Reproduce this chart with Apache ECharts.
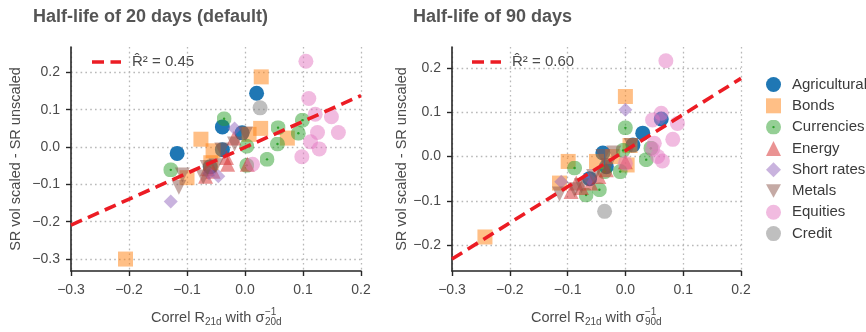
<!DOCTYPE html>
<html>
<head>
<meta charset="utf-8">
<script src="https://cdn.jsdelivr.net/npm/echarts@6/dist/echarts.min.js"></script>
<style>
  html, body { margin: 0; padding: 0; background: #fff; }
  #chart { width: 866px; height: 332px; }
</style>
</head>
<body>
<div id="chart"></div>
<script>
// Asset classes shown in the legend
const categories = ['Agricultural', 'Bonds', 'Currencies', 'Energy', 'Short rates', 'Metals', 'Equities', 'Credit'];

// Half-life of 20 days: [correlation, SR vol scaled - SR unscaled]
const agri20 = [[-0.117, -0.017], [-0.039, 0.054], [-0.005, 0.038], [-0.039, -0.007], [-0.060, -0.053], [0.020, 0.144]];
const bonds20 = [[-0.206, -0.300], [0.028, 0.188], [-0.076, 0.021], [0.027, 0.050], [0.007, 0.034], [0.073, 0.024], [-0.055, -0.010], [-0.100, -0.082], [-0.059, -0.042]];
const curr20 = [[-0.036, 0.076], [-0.128, -0.061], [0.003, 0.002], [0.003, -0.049], [0.038, -0.033], [0.099, 0.072], [0.057, 0.052], [0.092, 0.037], [0.056, 0.008]];
const energy20 = [[-0.019, 0.024], [-0.032, -0.028], [-0.030, -0.046], [0.004, -0.046], [-0.065, -0.058], [-0.068, -0.078], [-0.055, -0.065]];
const short20 = [[-0.128, -0.146], [-0.046, -0.078], [-0.018, 0.050], [-0.062, -0.070]];
const metals20 = [[-0.114, -0.108], [-0.108, -0.075], [-0.040, -0.008], [-0.018, 0.008], [-0.065, -0.055], [-0.072, -0.080], [0.001, 0.035], [-0.050, -0.050]];
const equities20 = [[0.105, 0.230], [0.110, 0.130], [0.121, 0.088], [0.149, 0.081], [0.125, 0.039], [0.161, 0.039], [0.113, 0.014], [0.128, -0.005], [0.098, -0.026], [0.013, -0.046]];
const credit20 = [[0.026, 0.105]];
const fit20 = [[-0.3, -0.209], [0.2, 0.138]];
const r2_20 = '0.45';

// Half-life of 90 days
const agri90 = [[0.062, 0.085], [0.030, 0.053], [0.013, 0.026], [-0.039, 0.008], [-0.033, -0.023], [-0.062, -0.050]];
const bonds90 = [[-0.243, -0.182], [0.000, 0.136], [-0.099, -0.011], [-0.114, -0.060], [-0.050, -0.011], [-0.022, 0.000], [0.003, -0.019], [0.008, 0.025]];
const curr90 = [[0.000, 0.065], [-0.088, -0.026], [-0.068, -0.087], [-0.045, -0.075], [-0.009, -0.034], [-0.036, -0.034], [0.036, -0.007], [0.044, 0.019], [-0.004, 0.014]];
const energy90 = [[-0.094, -0.079], [-0.076, -0.070], [-0.046, -0.045], [-0.085, -0.060], [0.000, -0.012], [-0.060, -0.060], [-0.033, -0.030]];
const short90 = [[0.000, 0.106], [-0.111, -0.057], [0.062, 0.086], [-0.062, -0.050]];
const metals90 = [[-0.114, -0.085], [-0.088, -0.075], [-0.039, 0.000], [-0.020, 0.008], [0.010, 0.025], [-0.076, -0.066], [-0.055, -0.045], [-0.030, -0.020]];
const equities90 = [[0.070, 0.217], [0.062, 0.098], [0.047, 0.083], [0.090, 0.075], [0.082, 0.039], [0.047, 0.017], [0.056, 0.000], [0.064, -0.010], [0.050, 0.030], [0.000, -0.015]];
const credit90 = [[-0.036, -0.124]];
const fit90 = [[-0.3, -0.232], [0.2, 0.177]];
const r2_90 = '0.60';

// Axis ranges and tick labels
const xTicks = [-0.3, -0.2, -0.1, 0.0, 0.1, 0.2];
const yTicks20 = [-0.3, -0.2, -0.1, 0.0, 0.1, 0.2];
const yTicks90 = [-0.2, -0.1, 0.0, 0.1, 0.2];
const yRange20 = [-0.332, 0.268];
const yRange90 = [-0.259, 0.248];
const titles = ['Half-life of 20 days (default)', 'Half-life of 90 days'];
const yName = 'SR vol scaled - SR unscaled';
const lags = ['20d', '90d'];

const FONT = '"Liberation Sans", Arial, Helvetica, sans-serif';
const TXT = '#4a4a4a';
const AXIS = '#262626';

const panels = [
  { sets: [agri20, bonds20, curr20, energy20, short20, metals20, equities20, credit20], fit: fit20, r2: r2_20, yTicks: yTicks20, yRange: yRange20 },
  { sets: [agri90, bonds90, curr90, energy90, short90, metals90, equities90, credit90], fit: fit90, r2: r2_90, yTicks: yTicks90, yRange: yRange90 }
];

const dotSvg = "<svg xmlns='http://www.w3.org/2000/svg' width='30' height='30' viewBox='0 0 30 30'>" +
  "<circle cx='15' cy='15' r='15' fill='#2ca02c' fill-opacity='0.5'/>" +
  "<circle cx='15' cy='15' r='2.4' fill='#2ca02c'/></svg>";
const dotSymbol = 'image://data:image/svg+xml;charset=utf-8,' + encodeURIComponent(dotSvg);

const styles = [
  { symbol: 'circle', size: 15, color: 'rgb(31,119,180)' },
  { symbol: 'rect', size: 15, color: 'rgba(255,127,14,0.5)' },
  { symbol: dotSymbol, size: 15, color: 'rgba(44,160,44,0.5)' },
  { symbol: 'triangle', size: 15, color: 'rgba(214,39,40,0.5)' },
  { symbol: 'diamond', size: 14, color: 'rgba(148,103,189,0.5)' },
  { symbol: 'path://M0,0 L10,0 L5,9 Z', size: 15, color: 'rgba(140,86,75,0.5)' },
  { symbol: 'circle', size: 15, color: 'rgba(227,119,194,0.5)' },
  { symbol: 'circle', size: 15, color: 'rgba(127,127,127,0.5)' }
];

const gridBoxes = [
  { left: 71, top: 47, width: 290, height: 224 },
  { left: 452, top: 47, width: 289, height: 224 }
];

function fmt(v) {
  const r = Math.round(v * 10) / 10;
  return (r < 0 ? '\u2212' : '') + Math.abs(r).toFixed(1);
}

const splitStyle = { show: true, lineStyle: { color: '#b8b8b8', width: 1.3, type: [1.6, 3.2] } };

const xAxes = gridBoxes.map((g, i) => ({
  type: 'value', gridIndex: i, min: -0.3, max: 0.2, interval: 0.1,
  axisLine: { show: true, onZero: false, lineStyle: { color: AXIS, width: 1.6 } },
  axisTick: { show: true, inside: false, length: 5, lineStyle: { color: AXIS, width: 1.4 } },
  axisLabel: { color: TXT, fontSize: 14, fontFamily: FONT, margin: 12, formatter: fmt },
  splitLine: splitStyle
}));

const yAxes = panels.map((p, i) => ({
  type: 'value', gridIndex: i, min: p.yRange[0], max: p.yRange[1],
  name: yName, nameLocation: 'middle', nameGap: i === 0 ? 48 : 42, nameRotate: 90,
  nameTextStyle: { color: TXT, fontSize: 14.5, fontFamily: FONT },
  axisLine: { show: true, onZero: false, lineStyle: { color: AXIS, width: 1.6 } },
  axisTick: { show: true, inside: false, length: 5, customValues: p.yTicks, lineStyle: { color: AXIS, width: 1.4 } },
  axisLabel: { color: TXT, fontSize: 14, fontFamily: FONT, margin: 11, customValues: p.yTicks, formatter: fmt },
  splitLine: splitStyle
}));

const series = [];
panels.forEach((p, pi) => {
  p.sets.forEach((data, ci) => {
    const st = styles[ci];
    series.push({
      type: 'scatter', name: categories[ci], xAxisIndex: pi, yAxisIndex: pi,
      data: data, symbol: st.symbol, symbolSize: st.size,
      itemStyle: { color: st.color, opacity: 1, borderWidth: 0 },
      emphasis: { disabled: true }, z: 2 + ci * 0.01
    });
  });
  series.push({
    type: 'line', name: 'fit' + pi, xAxisIndex: pi, yAxisIndex: pi,
    data: p.fit, symbol: 'none', silent: true, z: 10,
    lineStyle: { color: '#ec1c24', width: 3.6, type: [12, 6.5] }
  });
});

// Measure text to lay out the sub/superscripted x-axis titles
const ctx = document.createElement('canvas').getContext('2d');
function tw(text, size) { ctx.font = size + 'px ' + FONT; return ctx.measureText(text).width; }

function axisTitle(cx, cy, lag) {
  const M = 14.5, S = 10;
  const parts = [];
  const w1 = tw('Correl R', M), w2 = tw('21d', S), w3 = tw(' with \u03c3', M);
  const w4 = Math.max(tw('\u22121', S), tw(lag, S));
  let x = cx - (w1 + w2 + w3 + w4) / 2;
  const t = (text, px, py, size) => ({
    type: 'text', x: px, y: py, silent: true,
    style: { text: text, font: size + 'px ' + FONT, fill: TXT, textAlign: 'left', textVerticalAlign: 'middle', align: 'left', verticalAlign: 'middle' }
  });
  parts.push(t('Correl R', x, cy, M)); x += w1;
  parts.push(t('21d', x, cy + 4.5, S)); x += w2;
  parts.push(t(' with \u03c3', x, cy, M)); x += w3;
  parts.push(t('\u22121', x + 0.5, cy - 6, S));
  parts.push(t(lag, x + 0.5, cy + 4.5, S));
  return parts;
}

function fitLegend(x, y, r2) {
  return [
    { type: 'line', silent: true, shape: { x1: x, y1: y, x2: x + 29, y2: y },
      style: { stroke: '#ec1c24', lineWidth: 3.6, lineDash: [12, 6.5] } },
    { type: 'text', x: x + 40, y: y, silent: true,
      style: { text: 'R\u0302\u00b2 = ' + r2, font: '15px ' + FONT, fill: TXT, textAlign: 'left', textVerticalAlign: 'middle', align: 'left', verticalAlign: 'middle' } }
  ];
}

const graphics = []
  .concat(axisTitle(216, 318, lags[0]))
  .concat(axisTitle(596, 318, lags[1]))
  .concat(fitLegend(92, 62, r2_20))
  .concat(fitLegend(472, 62, r2_90));

const chart = echarts.init(document.getElementById('chart'), null, { renderer: 'canvas' });
chart.setOption({
  animation: false,
  backgroundColor: '#fff',
  title: titles.map((t, i) => ({
    text: t, left: i === 0 ? 33 : 413, top: 8, padding: 0,
    textStyle: { color: '#555', fontSize: 18, fontWeight: 'bold', fontFamily: FONT }
  })),
  legend: {
    data: categories, orient: 'vertical', left: 761, top: 72,
    itemWidth: 15, itemHeight: 15, itemGap: 6.3,
    textStyle: { color: '#3a3a3a', fontSize: 15, fontFamily: FONT, padding: [0, 0, 0, 6] },
    selectedMode: false
  },
  grid: gridBoxes.map(g => Object.assign({ containLabel: false }, g)),
  xAxis: xAxes,
  yAxis: yAxes,
  series: series,
  graphic: graphics
});
</script>
</body>
</html>
